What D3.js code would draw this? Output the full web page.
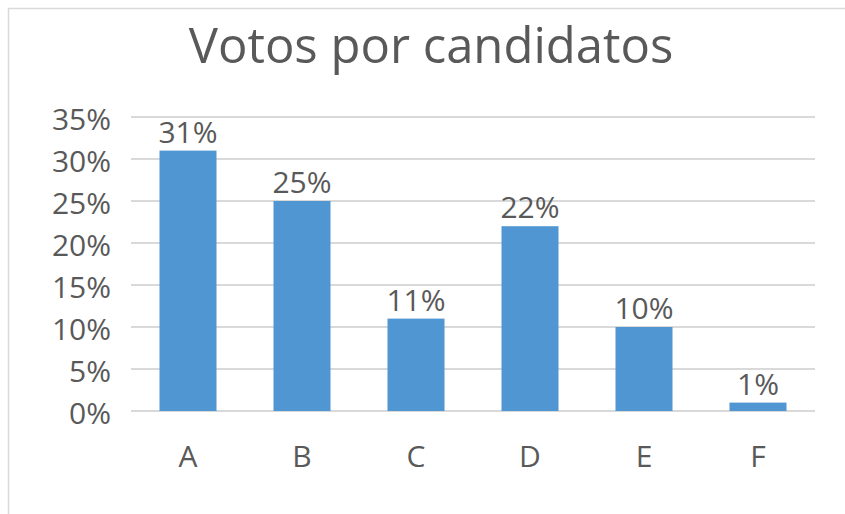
<!DOCTYPE html>
<html><head><meta charset="utf-8">
<script src="https://cdn.jsdelivr.net/npm/d3@7"></script>
<style>body{margin:0;background:#fff}svg{display:block}text{font-family:"Open Sans","Noto Sans",sans-serif;fill:#595959}</style>
</head><body>
<script>
const title = "Votos por candidatos";
const categories = ["A","B","C","D","E","F"];
const values = [0.31,0.25,0.11,0.22,0.10,0.01];
const yTicks = [0,0.05,0.10,0.15,0.20,0.25,0.30,0.35];

const W=845,H=514;
const svg=d3.select("body").append("svg").attr("width",W).attr("height",H);
svg.append("rect").attr("x",8.5).attr("y",8.5).attr("width",W+10).attr("height",H+10)
  .attr("fill","#fff").attr("stroke","#d9d9d9").attr("stroke-width",1.5);

const x=d3.scaleBand().domain(categories).range([131,815]).paddingInner(0.5).paddingOuter(0.25);
const y=d3.scaleLinear().domain([0,0.35]).range([411,117]);
const fmt=d3.format(".0%");

svg.append("text").attr("x",431).attr("y",63).attr("text-anchor","middle")
  .style("font-size","49px").text(title);

svg.append("g").selectAll("line").data(yTicks).join("line")
  .attr("x1",131).attr("x2",815).attr("y1",d=>y(d)).attr("y2",d=>y(d))
  .attr("stroke","#d9d9d9").attr("stroke-width",2);

svg.append("g").selectAll("text").data(yTicks).join("text")
  .attr("x",111).attr("y",d=>y(d)+13).attr("text-anchor","end")
  .style("font-size","30px").text(fmt);

svg.append("g").selectAll("rect").data(values).join("rect")
  .attr("x",(d,i)=>x(categories[i])).attr("width",x.bandwidth())
  .attr("y",d=>y(d)).attr("height",d=>y(0)-y(d)).attr("fill","#5096d2");

svg.append("g").selectAll("text").data(values).join("text")
  .attr("x",(d,i)=>x(categories[i])+x.bandwidth()/2).attr("y",d=>y(d)-8)
  .attr("text-anchor","middle").style("font-size","30px").text(fmt);

svg.append("g").selectAll("text").data(categories).join("text")
  .attr("x",d=>x(d)+x.bandwidth()/2).attr("y",467)
  .attr("text-anchor","middle").style("font-size","30px").text(d=>d);
</script>
</body></html>
